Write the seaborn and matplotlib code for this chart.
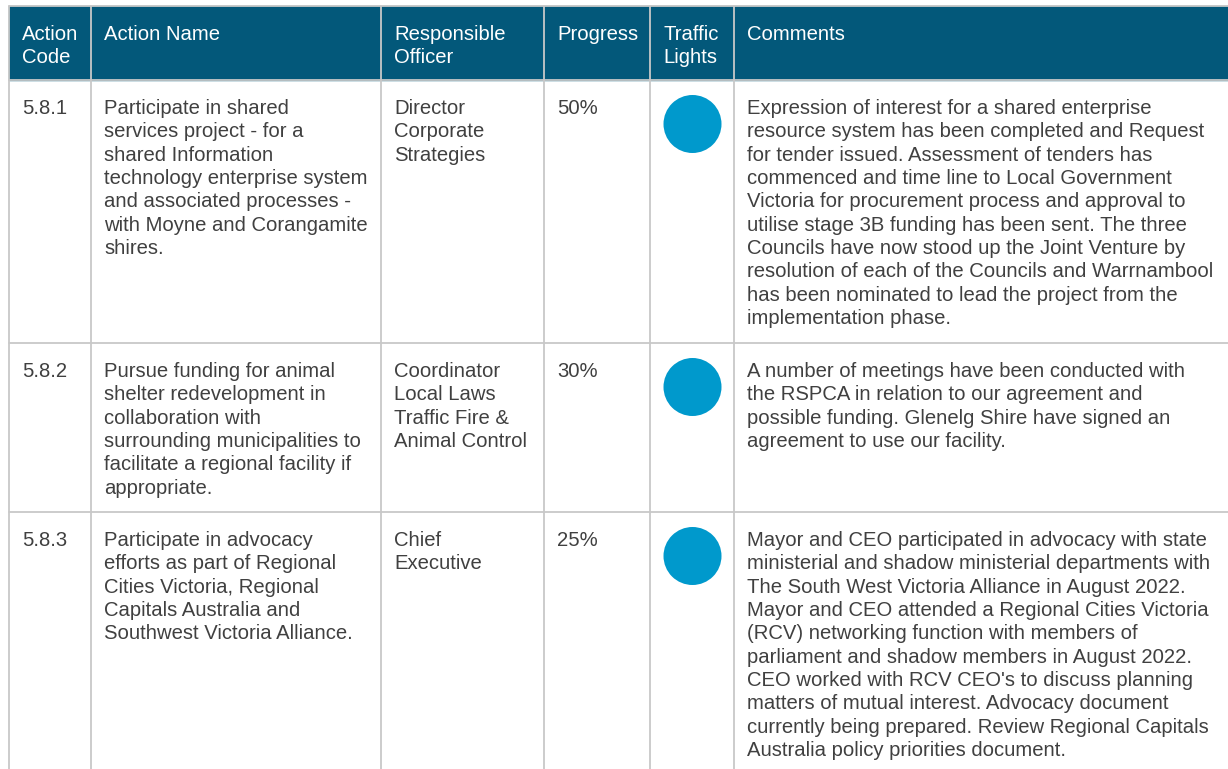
import seaborn as sns
import pandas as pd
import matplotlib.pyplot as plt

# Table content
headers = ["Action\nCode", "Action Name", "Responsible\nOfficer", "Progress",
           "Traffic\nLights", "Comments"]
codes = ["5.8.1", "5.8.2", "5.8.3"]
action_names = [
    "Participate in shared\nservices project - for a\nshared Information\n"
    "technology enterprise system\nand associated processes -\n"
    "with Moyne and Corangamite\nshires.",
    "Pursue funding for animal\nshelter redevelopment in\ncollaboration with\n"
    "surrounding municipalities to\nfacilitate a regional facility if\nappropriate.",
    "Participate in advocacy\nefforts as part of Regional\nCities Victoria, Regional\n"
    "Capitals Australia and\nSouthwest Victoria Alliance.",
]
officers = ["Director\nCorporate\nStrategies",
            "Coordinator\nLocal Laws\nTraffic Fire &\nAnimal Control",
            "Chief\nExecutive"]
progress = ["50%", "30%", "25%"]
lights = ["blue", "blue", "blue"]
comments = [
    "Expression of interest for a shared enterprise\n"
    "resource system has been completed and Request\n"
    "for tender issued. Assessment of tenders has\n"
    "commenced and time line to Local Government\n"
    "Victoria for procurement process and approval to\n"
    "utilise stage 3B funding has been sent. The three\n"
    "Councils have now stood up the Joint Venture by\n"
    "resolution of each of the Councils and Warrnambool\n"
    "has been nominated to lead the project from the\n"
    "implementation phase.",
    "A number of meetings have been conducted with\n"
    "the RSPCA in relation to our agreement and\n"
    "possible funding. Glenelg Shire have signed an\n"
    "agreement to use our facility.",
    "Mayor and CEO participated in advocacy with state\n"
    "ministerial and shadow ministerial departments with\n"
    "The South West Victoria Alliance in August 2022.\n"
    "Mayor and CEO attended a Regional Cities Victoria\n"
    "(RCV) networking function with members of\n"
    "parliament and shadow members in August 2022.\n"
    "CEO worked with RCV CEO's to discuss planning\n"
    "matters of mutual interest. Advocacy document\n"
    "currently being prepared. Review Regional Capitals\n"
    "Australia policy priorities document.",
]

# Layout in pixels
W, H = 1228, 769
col_edges = [9, 91, 381, 544, 650, 734, 1240]
row_edges = [6, 80, 343, 512, 800]
pad_x = 13
line_h = 23.35
base_off = 34

header_col = "#03587A"
light_col = "#0099CC"
grid_col = "#C8C8C8"
text_col = "#404040"

sns.set_theme(style="white")
plt.rcParams["font.family"] = ["Liberation Sans", "DejaVu Sans"]

fig = plt.figure(figsize=(W / 100, H / 100), dpi=100)
ax = fig.add_axes([0, 0, 1, 1])
ax.set_xlim(0, W)
ax.set_ylim(H, 0)
ax.axis("off")

# header band
ax.add_patch(plt.Rectangle((col_edges[0], row_edges[0]), col_edges[-1] - col_edges[0],
                           row_edges[1] - row_edges[0], color=header_col, zorder=1))

# grid lines
for x in col_edges[:-1]:
    ax.plot([x, x], [row_edges[0], H + 5], color=grid_col, lw=1.3, zorder=2)
for y in row_edges[:-1]:
    ax.plot([col_edges[0], W + 5], [y, y], color=grid_col, lw=1.3, zorder=2)


def cell_text(col, top, txt, color, size=14.6):
    for i, line in enumerate(txt.split("\n")):
        ax.text(col_edges[col] + pad_x, top + base_off + i * line_h, line,
                fontsize=size, color=color, va="baseline", ha="left", zorder=3)


for c, h in enumerate(headers):
    cell_text(c, row_edges[0], h, "white")

for r in range(len(codes)):
    top = row_edges[r + 1]
    cell_text(0, top, codes[r], text_col)
    cell_text(1, top, action_names[r], text_col)
    cell_text(2, top, officers[r], text_col)
    cell_text(3, top, progress[r], text_col)
    cell_text(5, top, comments[r], text_col)

# traffic lights
lights_df = pd.DataFrame({
    "x": [(col_edges[4] + col_edges[5]) / 2 + 0.5] * len(codes),
    "y": [row_edges[r + 1] + 44 for r in range(len(codes))],
    "status": lights,
})
sns.scatterplot(data=lights_df, x="x", y="y", s=1744, color=light_col,
                edgecolor="none", legend=False, ax=ax, zorder=4)
ax.set_xlim(0, W)
ax.set_ylim(H, 0)
ax.axis("off")

fig.savefig("out.png", dpi=100)
